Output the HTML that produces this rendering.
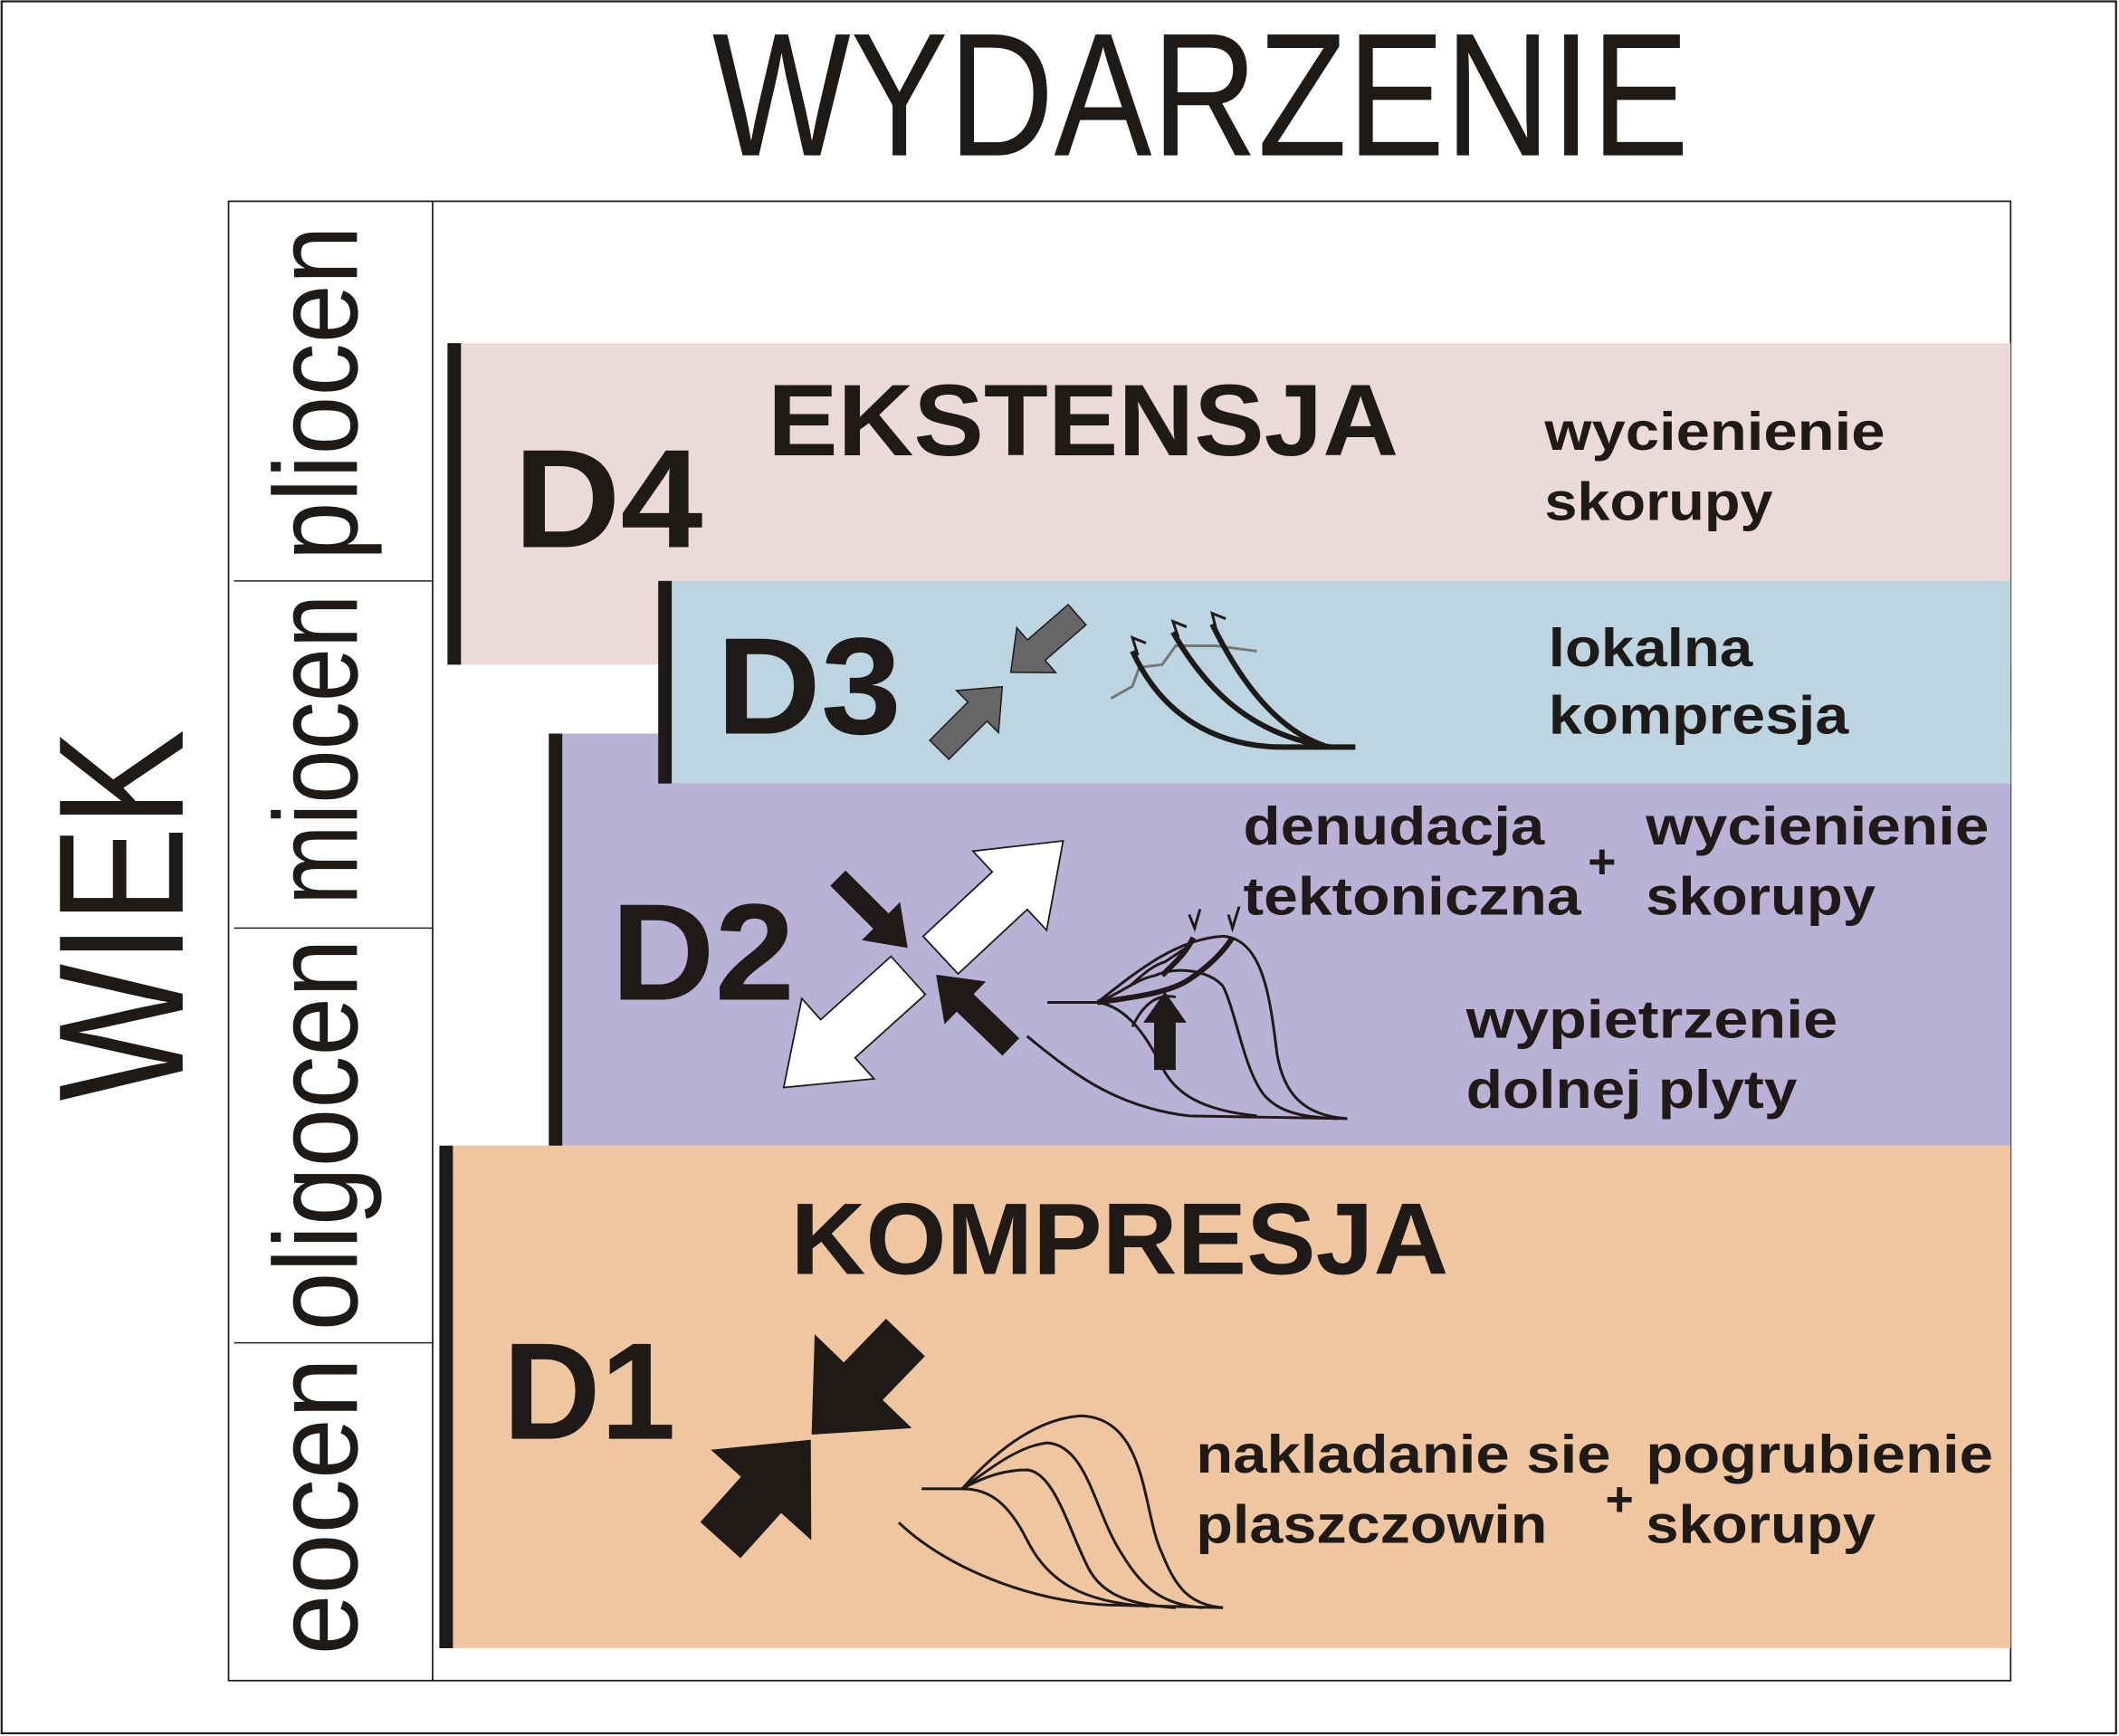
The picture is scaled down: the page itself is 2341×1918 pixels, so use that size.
<!DOCTYPE html>
<html><head><meta charset="utf-8"><style>html,body{margin:0;padding:0;background:#fff}svg{display:block}</style></head>
<body>
<svg width="2341" height="1918" viewBox="0 0 1568 1285" xmlns="http://www.w3.org/2000/svg">
<defs>
<style>
.b{font-family:"Liberation Sans",sans-serif;font-weight:bold;fill:#1e1a18}
.n{font-family:"Liberation Sans",sans-serif;fill:#1e1a18}
.t{fill:none;stroke:#1e1a18;stroke-width:2}
.tt{fill:none;stroke:#1e1a18;stroke-width:4}
</style>
</defs>
<rect x="0" y="0" width="1568" height="1285" fill="#fff"/>
<rect x="1" y="1" width="1565" height="1282" fill="none" stroke="#222" stroke-width="1.5"/>
<text class="n" x="527" y="115" font-size="130" textLength="723" lengthAdjust="spacingAndGlyphs">WYDARZENIE</text>
<text class="n" x="0" y="0" font-size="132" textLength="275" lengthAdjust="spacingAndGlyphs" transform="translate(135,815) rotate(-90)">WIEK</text>

<rect x="169" y="149" width="1319" height="1095" fill="none" stroke="#222" stroke-width="1.2"/>
<line x1="320" y1="149" x2="320" y2="1244" stroke="#222" stroke-width="1.2"/>
<line x1="173" y1="430" x2="320" y2="430" stroke="#222" stroke-width="1"/>
<line x1="173" y1="687" x2="320" y2="687" stroke="#222" stroke-width="1"/>
<line x1="173" y1="994" x2="320" y2="994" stroke="#222" stroke-width="1"/>
<g class="n" font-size="88">
<text transform="translate(264,415) rotate(-90)" textLength="248" lengthAdjust="spacingAndGlyphs">pliocen</text>
<text transform="translate(264,670) rotate(-90)" textLength="230" lengthAdjust="spacingAndGlyphs">miocen</text>
<text transform="translate(264,985) rotate(-90)" textLength="290" lengthAdjust="spacingAndGlyphs">oligocen</text>
<text transform="translate(264,1225) rotate(-90)" textLength="220" lengthAdjust="spacingAndGlyphs">eocen</text>
</g>

<!-- bands -->
<rect x="335" y="254" width="1153" height="238" fill="#ecd9da"/>
<rect x="410" y="543" width="1078" height="305" fill="#b9b2d6"/>
<rect x="490" y="430" width="998" height="150" fill="#bcd5e0"/>
<rect x="330" y="848" width="1158" height="372" fill="#efc6a0"/>
<rect x="331" y="254" width="10" height="238" fill="#1e1a18"/>
<rect x="487" y="430" width="10" height="150" fill="#1e1a18"/>
<rect x="406" y="543" width="10" height="305" fill="#1e1a18"/>
<rect x="325" y="848" width="10" height="372" fill="#1e1a18"/>

<!-- D4 -->
<text class="b" x="380" y="405" font-size="104" textLength="140" lengthAdjust="spacingAndGlyphs">D4</text>
<text class="b" x="568" y="337" font-size="75" textLength="467" lengthAdjust="spacingAndGlyphs">EKSTENSJA</text>
<text class="b" x="1143" y="333" font-size="40" textLength="252" lengthAdjust="spacingAndGlyphs">wycienienie</text>
<text class="b" x="1143" y="385" font-size="40" textLength="169" lengthAdjust="spacingAndGlyphs">skorupy</text>

<!-- D3 -->
<text class="b" x="530" y="543" font-size="102" textLength="137" lengthAdjust="spacingAndGlyphs">D3</text>
<text class="b" x="1146" y="493" font-size="40" textLength="151" lengthAdjust="spacingAndGlyphs">lokalna</text>
<text class="b" x="1146" y="543" font-size="40" textLength="222" lengthAdjust="spacingAndGlyphs">kompresja</text>
<g fill="#666" stroke="#1e1a18" stroke-width="1">
<polygon transform="translate(797,455) rotate(139)" points="0,-10 40,-10 40,-22 65,0 40,22 40,10 0,10"/>
<polygon transform="translate(695,555) rotate(-45)" points="0,-10 40,-10 40,-22 66,0 40,22 40,10 0,10"/>
</g>
<path d="M822,517 L838,508 L843,494 L860,492 L870,478 L900,478 L930,482" fill="none" stroke="#777" stroke-width="2"/>
<path class="tt" d="M838,482 C860,530 900,553 950,553 L1003,553"/>
<path class="tt" d="M868,468 C895,515 930,545 985,553"/>
<path class="tt" d="M897,462 C918,505 945,540 980,552"/>
<path class="t" d="M842,485 L838,472 L848,476 M872,472 L868,460 L878,464 M900,466 L897,454 L907,458"/>

<!-- D2 -->
<text class="b" x="452" y="740" font-size="102" textLength="136" lengthAdjust="spacingAndGlyphs">D2</text>
<text class="b" x="920" y="625" font-size="40" textLength="223" lengthAdjust="spacingAndGlyphs">denudacja</text>
<text class="b" x="920" y="677" font-size="40" textLength="250" lengthAdjust="spacingAndGlyphs">tektoniczna</text>
<text class="b" x="1175" y="650" font-size="36">+</text>
<text class="b" x="1218" y="625" font-size="40" textLength="254" lengthAdjust="spacingAndGlyphs">wycienienie</text>
<text class="b" x="1218" y="677" font-size="40" textLength="170" lengthAdjust="spacingAndGlyphs">skorupy</text>
<text class="b" x="1085" y="768" font-size="40" textLength="275" lengthAdjust="spacingAndGlyphs">wypietrzenie</text>
<text class="b" x="1085" y="820" font-size="40" textLength="245" lengthAdjust="spacingAndGlyphs">dolnej plyty</text>
<g fill="#1e1a18">
<polygon transform="translate(620,650) rotate(45)" points="0,-8 45,-8 45,-20 73,0 45,20 45,8 0,8"/>
<polygon transform="translate(748,775) rotate(-136)" points="0,-9 47,-9 47,-22 77,0 47,22 47,9 0,9"/>
<polygon transform="translate(862,792) rotate(-90)" points="0,-8 35,-8 35,-16 58,0 35,16 35,8 0,8"/>
</g>
<g fill="#fff" stroke="#1e1a18" stroke-width="1.2">
<polygon transform="translate(696,707) rotate(-43)" points="0,-19 70,-19 70,-40 124,0 70,40 70,19 0,19"/>
<polygon transform="translate(672,722) rotate(138)" points="0,-19 70,-19 70,-40 124,0 70,40 70,19 0,19"/>
</g>
<path class="t" d="M775,742 L812,742 C840,720 870,695 905,693 C935,695 940,740 945,780 C950,810 965,826 997,828"/>
<path class="t" d="M812,742 C830,735 840,725 855,722 C870,715 895,718 905,730 C915,750 920,790 935,810 C945,822 960,827 990,828"/>
<path class="t" d="M812,742 C835,745 850,770 860,790 C870,810 890,822 930,826"/>
<path class="t" d="M760,767 C800,800 830,820 880,826 L997,828"/>
<path class="t" d="M836,730 C845,722 852,715 862,712 L880,700 M838,760 C845,745 855,735 870,738"/>
<path class="tt" d="M812,742 C840,738 865,735 880,725 C895,715 905,705 912,694" stroke-width="3"/>
<path class="tt" d="M860,722 C870,712 878,705 883,694" stroke-width="3"/>
<path class="t" d="M880,677 L884,687 L888,673 M909,677 L912,687 L917,671"/>

<!-- D1 -->
<text class="b" x="585" y="943" font-size="75" textLength="487" lengthAdjust="spacingAndGlyphs">KOMPRESJA</text>
<text class="b" x="372" y="1065" font-size="102" textLength="128" lengthAdjust="spacingAndGlyphs">D1</text>
<text class="b" x="885" y="1090" font-size="40" textLength="307" lengthAdjust="spacingAndGlyphs">nakladanie sie</text>
<text class="b" x="885" y="1142" font-size="40" textLength="260" lengthAdjust="spacingAndGlyphs">plaszczowin</text>
<text class="b" x="1188" y="1122" font-size="36">+</text>
<text class="b" x="1218" y="1090" font-size="40" textLength="257" lengthAdjust="spacingAndGlyphs">pogrubienie</text>
<text class="b" x="1218" y="1142" font-size="40" textLength="170" lengthAdjust="spacingAndGlyphs">skorupy</text>
<g fill="#1e1a18">
<polygon transform="translate(670,990) rotate(134)" points="0,-20 45,-20 45,-50 100,0 45,50 45,20 0,20"/>
<polygon transform="translate(533,1140) rotate(-48)" points="0,-20 45,-20 45,-50 100,0 45,50 45,20 0,20"/>
</g>
<path class="t" d="M682,1102 L712,1102 C740,1070 770,1050 800,1048 C850,1050 845,1120 860,1150 C870,1175 880,1188 905,1190"/>
<path class="t" d="M712,1102 C735,1085 755,1070 775,1068 C805,1070 810,1120 830,1150 C845,1175 860,1188 890,1190"/>
<path class="t" d="M712,1102 C730,1092 745,1088 760,1088 C780,1090 790,1130 805,1160 C815,1180 835,1188 870,1190"/>
<path class="t" d="M712,1102 C730,1102 745,1110 760,1140 C775,1170 800,1186 850,1189"/>
<path class="t" d="M665,1127 C700,1160 760,1185 820,1188 L905,1190"/>
</svg>
</body></html>
